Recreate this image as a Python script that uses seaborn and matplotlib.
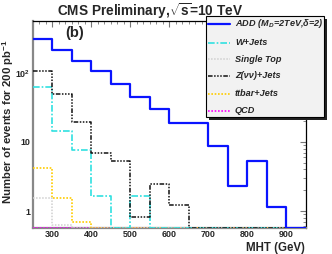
import numpy as np
import matplotlib
matplotlib.use("Agg")
import matplotlib.pyplot as plt
import seaborn as sns
from matplotlib.ticker import MultipleLocator, FixedLocator, LogLocator, NullFormatter
from matplotlib.patches import Rectangle
from matplotlib.lines import Line2D

# ---------------- data ----------------
bin_edges = [250, 300, 350, 400, 450, 500, 550, 600, 650, 700, 750, 800, 850, 900, 950]
add_vals   = [304, 213, 147, 106, 68, 44, 30, 18.6, 18.6, 8.6, 2.28, 5.25, 1.13, 0]
wjets_vals = [63, 14.5, 7.6, 1.67, 0, 1.67, 0, 0, 0, 0, 0, 0, 0, 0]
stop_vals  = [1.56, 0.64, 0, 0, 0, 0, 0, 0, 0, 0, 0, 0, 0, 0]
zjets_vals = [106, 50, 19.4, 7.0, 5.35, 0.81, 2.47, 1.22, 0, 0, 0, 0, 0, 0]
ttbar_vals = [4.2, 1.55, 0.70, 0, 0, 0, 0, 0, 0, 0, 0, 0, 0, 0]
qcd_vals   = [0, 0, 0, 0, 0, 0, 0, 0, 0, 0, 0, 0, 0, 0]

labels = ["ADD (M$_{D}$=2TeV,δ=2)", "W+Jets", "Single Top", "Z(νν)+Jets", "ttbar+Jets", "QCD"]
x_ticks = [300, 400, 500, 600, 700, 800, 900]
y_ticks = [1, 10, 100]
y_tick_labels = ["1", "10", "10$^{2}$"]

YMIN, YMAX = 0.58, 560
XMIN, XMAX = 250, 950

sns.set_theme(style="white")
plt.rcParams["font.family"] = ["Liberation Sans", "DejaVu Sans"]
plt.rcParams["mathtext.fontset"] = "custom"
plt.rcParams["mathtext.rm"] = "Liberation Sans:bold"
plt.rcParams["mathtext.it"] = "Liberation Sans:bold:italic"
plt.rcParams["mathtext.bf"] = "Liberation Sans:bold"

W, H = 332, 254
fig = plt.figure(figsize=(W / 100, H / 100), dpi=100)
fig.patch.set_facecolor("white")

def fx(px):
    return px / W

def fy(py):
    return 1 - py / H

ax = fig.add_axes([fx(33), fy(227.5), fx(305.5) - fx(33), fy(21) - fy(227.5)])
ax.set_facecolor("white")

styles = [
    dict(color="#0a14ff", lw=1.6, ls="-"),
    dict(color="#30e0e0", lw=1.2, ls=(0, (4, 1.2, 1, 1.2))),
    dict(color="#cfcfcf", lw=1.1, ls=(0, (1, 1))),
    dict(color="#111111", lw=1.1, ls=(0, (3, 1, 1, 1, 1, 1, 1, 1))),
    dict(color="#ffcc00", lw=1.2, ls=(0, (1, 1))),
    dict(color="#ff00ff", lw=1.2, ls=(0, (1, 1))),
]
series = [add_vals, wjets_vals, stop_vals, zjets_vals, ttbar_vals, qcd_vals]
order = [5, 4, 2, 1, 3, 0]
for i in order:
    vals = np.clip(np.array(series[i], dtype=float), YMIN, None)
    y = np.append(vals, vals[-1])
    st = styles[i]
    sns.lineplot(x=bin_edges, y=y, ax=ax, drawstyle="steps-post", color=st["color"],
                 linewidth=st["lw"], linestyle=st["ls"], estimator=None, zorder=3 + (i == 0))

ax.set_yscale("log")
ax.set_xlim(XMIN, XMAX)
ax.set_ylim(YMIN, YMAX)

ax.xaxis.set_major_locator(FixedLocator(x_ticks))
ax.xaxis.set_minor_locator(MultipleLocator(100 / 6))
ax.set_xticklabels([str(t) for t in x_ticks], fontsize=6.4, fontweight="bold")
ax.yaxis.set_major_locator(FixedLocator(y_ticks))
ax.yaxis.set_minor_locator(LogLocator(base=10, subs=np.arange(2, 10)))
ax.yaxis.set_minor_formatter(NullFormatter())
ax.set_yticklabels(y_tick_labels, fontsize=6.4, fontweight="bold")

ax.tick_params(which="both", direction="in", top=True, right=True, pad=2)
ax.tick_params(which="major", length=4.5, width=0.8, color="#777777")
ax.tick_params(which="minor", length=2.3, width=0.6, color="#777777")

for side in ["top", "right"]:
    ax.spines[side].set_color("black")
    ax.spines[side].set_linewidth(0.9)
for side in ["left", "bottom"]:
    ax.spines[side].set_color("#888888")
    ax.spines[side].set_linewidth(1.6)

ax.set_xlabel("")
ax.set_ylabel("")
fig.text(fx(305), fy(248), "MHT (GeV)", ha="right", va="center", fontsize=8.3, fontweight="bold")
fig.text(fx(8.5), fy(122), "Number of events for 200 pb$^{-1}$", rotation=90, ha="center",
         va="center", fontsize=8.2, fontweight="bold")
fig.text(fx(150), fy(11), "CMS Preliminary,$\\sqrt{\\mathrm{s}}$=10 TeV", ha="center", va="center",
         fontsize=9.8, fontweight="bold")
fig.text(fx(75), fy(33), "(b)", ha="center", va="center", fontsize=10.5, fontweight="bold")

# ---------------- legend ----------------
lx0, lx1, ly0, ly1 = 205.7, 324, 15.7, 117.3
shadow = Rectangle((fx(lx0 + 3), fy(ly1 + 3)), fx(lx1 - lx0), fy(ly0) - fy(ly1),
                   transform=fig.transFigure, facecolor="#222222", edgecolor="none", zorder=10)
box = Rectangle((fx(lx0), fy(ly1)), fx(lx1 - lx0), fy(ly0) - fy(ly1),
                transform=fig.transFigure, facecolor="#f2f2f2", edgecolor="black",
                linewidth=0.8, zorder=11)
fig.add_artist(shadow)
fig.add_artist(box)
entry_y = [24, 42.7, 59.3, 75.7, 94, 110.7]
for i, lab in enumerate(labels):
    st = styles[i]
    ln = Line2D([fx(208), fx(230)], [fy(entry_y[i])] * 2, transform=fig.transFigure,
                color=st["color"], linewidth=st["lw"], linestyle=st["ls"], zorder=12)
    fig.add_artist(ln)
    fig.text(fx(235), fy(entry_y[i]), lab, ha="left", va="center", fontsize=6.6,
             fontweight="bold", fontstyle="italic", zorder=12)

fig.savefig("out.png", dpi=100, facecolor="white")
